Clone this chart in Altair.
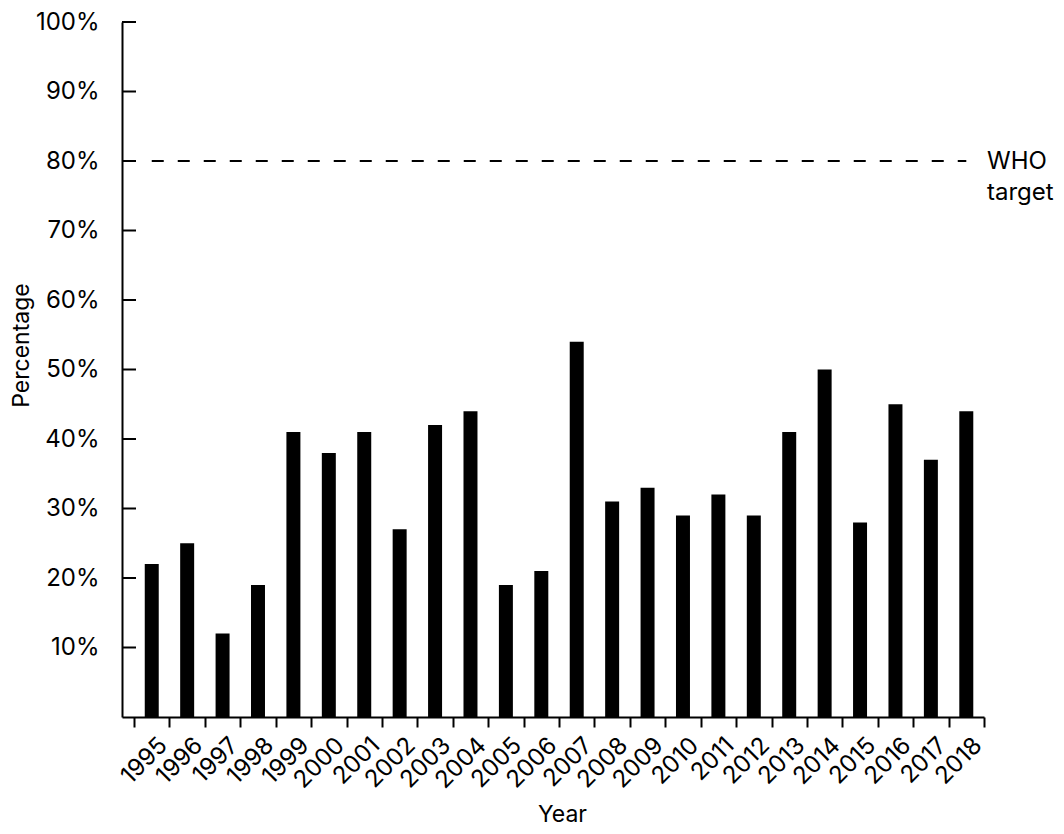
import altair as alt
import pandas as pd

years = [str(y) for y in range(1995, 2019)]
values = [22, 25, 12, 19, 41, 38, 41, 27, 42, 44, 19, 21, 54, 31, 33, 29, 32, 29, 41, 50, 28, 45, 37, 44]
y_ticks = [10, 20, 30, 40, 50, 60, 70, 80, 90, 100]
target_value = 80
target_label = "WHO\ntarget"

df = pd.DataFrame({"Year": years, "Percentage": values})
target_df = pd.DataFrame({"start": [years[0]], "end": [years[-1]],
                          "target": [target_value], "label": [target_label]})
tick_df = pd.DataFrame({"tick": y_ticks})

FONT = "Inter"
FS = 24
W, H = 862, 695
TICK_IN = 14

x_scale = alt.Scale(paddingInner=0, paddingOuter=0.17, align=1)
y_scale = alt.Scale(domain=[0, 100], nice=False, zero=True)

x_axis = alt.Axis(
    title="Year", tickBand="extent", grid=False,
    domainColor="black", domainWidth=2,
    tickColor="black", tickWidth=2, tickSize=10,
    labelAngle=315, labelAlign="right", labelBaseline="top",
    labelPadding=6, labelOffset=3,
    labelFont=FONT, labelFontSize=FS, labelColor="black",
    titleFont=FONT, titleFontSize=23, titleFontWeight="normal", titleColor="black",
    titleX=440, titleY=86, titleBaseline="top",
)

y_axis = alt.Axis(
    orient="left", values=y_ticks, labelExpr="datum.value + '%'",
    grid=False, domain=True, domainColor="black", domainWidth=2,
    ticks=False, tickSize=0,
    labelPadding=23, labelFont=FONT, labelFontSize=FS, labelColor="black",
    title="Percentage", titleFont=FONT, titleFontSize=23, titleFontWeight="normal",
    titleColor="black", titleX=-89, titleY=323,
)

bars = alt.Chart(df).mark_bar(color="black", width=alt.RelativeBandSize(0.395)).encode(
    x=alt.X("Year:O", scale=x_scale, axis=x_axis),
    y=alt.Y("Percentage:Q", scale=y_scale, axis=y_axis),
)

# inward-pointing y-axis ticks, one per tick value
ticks = alt.Chart(tick_df).mark_tick(
    color="black", orient="horizontal", size=TICK_IN, thickness=2, opacity=1,
).encode(
    x=alt.value(TICK_IN / 2),
    y=alt.Y("tick:Q", axis=y_axis),
)

rule = alt.Chart(target_df).mark_rule(color="black", strokeWidth=2, strokeDash=[12, 14]).encode(
    x=alt.X("start:O", axis=x_axis),
    x2="end",
    y=alt.Y("target:Q", axis=y_axis),
)

label = alt.Chart(target_df).mark_text(
    align="left", baseline="alphabetic", dy=8, lineBreak="\n", lineHeight=31,
    font=FONT, fontSize=FS, color="black",
).encode(
    x=alt.value(W + 3),
    y=alt.Y("target:Q", axis=y_axis),
    text="label:N",
)

chart = alt.layer(bars, ticks, rule, label).properties(
    width=W, height=H,
    autosize=alt.AutoSizeParams(type="none"),
    padding={"left": 114, "top": 14, "right": 70, "bottom": 118},
).configure_view(stroke="transparent")

chart.save("out.html", embed_options={"renderer": "svg", "actions": False})
